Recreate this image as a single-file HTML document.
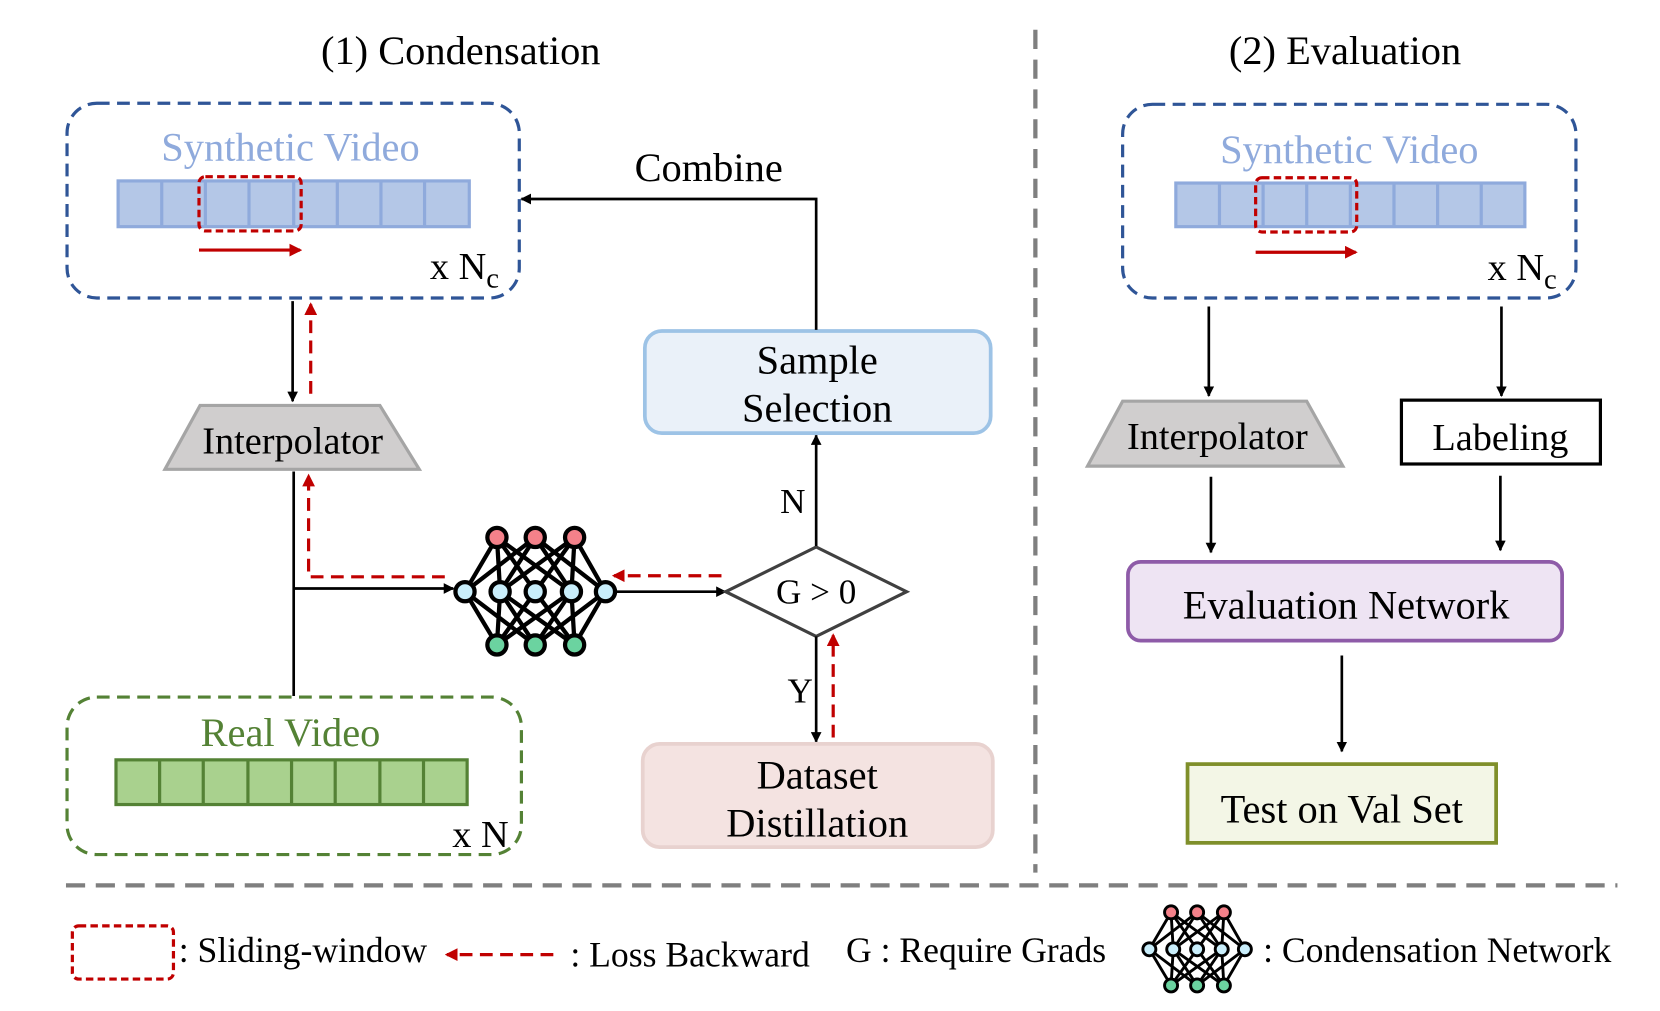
<!DOCTYPE html>
<html><head><meta charset="utf-8"><style>html,body{margin:0;padding:0;background:#fff}svg{display:block}text{font-family:"Liberation Serif",serif;fill:#000}</style></head>
<body>
<svg width="1660" height="1011" viewBox="0 0 1560 950" preserveAspectRatio="none" xmlns="http://www.w3.org/2000/svg" font-family="Liberation Serif, serif">
<defs>
<marker id="ab" markerWidth="10" markerHeight="10" refX="9" refY="5" orient="auto" markerUnits="userSpaceOnUse"><path d="M0,0 L10,5 L0,10 z" fill="#000"/></marker>
<marker id="ar" markerWidth="12" markerHeight="12" refX="10" refY="6" orient="auto" markerUnits="userSpaceOnUse"><path d="M0,0 L12,6 L0,12 z" fill="#C00000"/></marker>
<g id="net">
<g stroke="#000" stroke-width="4">
<path d="M-36,-51 L-66,0 M-36,-51 L-33,0 M-36,-51 L0,0 M-36,-51 L34,0 M0,-51 L-66,0 M0,-51 L-33,0 M0,-51 L34,0 M0,-51 L66,0 M37,-51 L0,0 M37,-51 L-33,0 M37,-51 L34,0 M37,-51 L66,0"/>
<path d="M-36,50 L-66,0 M-36,50 L-33,0 M-36,50 L0,0 M-36,50 L34,0 M0,50 L-66,0 M0,50 L-33,0 M0,50 L34,0 M0,50 L66,0 M37,50 L0,0 M37,50 L-33,0 M37,50 L34,0 M37,50 L66,0"/>
</g>
<g stroke="#000" stroke-width="4">
<circle cx="-36" cy="-51" r="9" fill="#F4818A"/><circle cx="0" cy="-51" r="9" fill="#F4818A"/><circle cx="37" cy="-51" r="9" fill="#F4818A"/>
<circle cx="-66" cy="0" r="9" fill="#C9EEFB"/><circle cx="-33" cy="0" r="9" fill="#C9EEFB"/><circle cx="0" cy="0" r="9" fill="#C9EEFB"/><circle cx="34" cy="0" r="9" fill="#C9EEFB"/><circle cx="66" cy="0" r="9" fill="#C9EEFB"/>
<circle cx="-36" cy="50" r="9" fill="#6BD3A0"/><circle cx="0" cy="50" r="9" fill="#6BD3A0"/><circle cx="37" cy="50" r="9" fill="#6BD3A0"/>
</g>
</g>
</defs>

<text x="433" y="60" font-size="38" text-anchor="middle">(1) Condensation</text>
<text x="1264" y="60" font-size="38" text-anchor="middle">(2) Evaluation</text>
<line x1="973" y1="28" x2="973" y2="820" stroke="#7F7F7F" stroke-width="4" stroke-dasharray="18,10"/>
<line x1="62" y1="832" x2="1520" y2="832" stroke="#7F7F7F" stroke-width="4" stroke-dasharray="18,10"/>

<rect x="63" y="97" width="425" height="183" rx="28" fill="none" stroke="#2F5597" stroke-width="3" stroke-dasharray="12,7"/>
<text x="273" y="151" font-size="38" text-anchor="middle" style="fill:#8FAADC">Synthetic Video</text>
<rect x="111" y="170" width="330" height="43" fill="#B4C7E7" stroke="#8FAADC" stroke-width="3"/>
<path d="M152,170v43M193,170v43M234,170v43M276,170v43M317,170v43M358,170v43M399,170v43" stroke="#8FAADC" stroke-width="3"/>
<rect x="187" y="166" width="96" height="51" rx="6" fill="none" stroke="#C00000" stroke-width="3" stroke-dasharray="7,4"/>
<line x1="187" y1="235" x2="282" y2="235" stroke="#C00000" stroke-width="3" marker-end="url(#ar)"/>
<text x="404" y="262" font-size="36">x N<tspan font-size="27" dy="8">c</tspan></text>

<line x1="275" y1="283" x2="275" y2="377" stroke="#000" stroke-width="2.5" marker-end="url(#ab)"/>
<line x1="292" y1="370" x2="292" y2="286" stroke="#C00000" stroke-width="3" stroke-dasharray="12,7" marker-end="url(#ar)"/>

<polygon points="188,381 357,381 394,441 155,441" fill="#D0CECE" stroke="#A5A5A5" stroke-width="3"/>
<text x="275" y="426" font-size="36" text-anchor="middle">Interpolator</text>

<line x1="276" y1="443" x2="276" y2="654" stroke="#000" stroke-width="2.5"/>
<line x1="276" y1="553" x2="426" y2="553" stroke="#000" stroke-width="2.5" marker-end="url(#ab)"/>
<polyline points="418,542 290,542 290,447" fill="none" stroke="#C00000" stroke-width="3" stroke-dasharray="12,7" marker-end="url(#ar)"/>

<use href="#net" x="503" y="556"/>

<line x1="578" y1="556" x2="682" y2="556" stroke="#000" stroke-width="2.5" marker-end="url(#ab)"/>
<line x1="678" y1="541" x2="577" y2="541" stroke="#C00000" stroke-width="3" stroke-dasharray="12,7" marker-end="url(#ar)"/>

<polygon points="682,556 767,514 852,556 767,598" fill="#fff" stroke="#404040" stroke-width="3"/>
<text x="767" y="567" font-size="33" text-anchor="middle">G &gt; 0</text>

<line x1="767" y1="513" x2="767" y2="409" stroke="#000" stroke-width="2.5" marker-end="url(#ab)"/>
<text x="745" y="482" font-size="33" text-anchor="middle">N</text>

<rect x="606" y="311" width="325" height="96" rx="16" fill="#EAF1F9" stroke="#9DC3E6" stroke-width="3.5"/>
<text x="768" y="351" font-size="38" text-anchor="middle">Sample</text>
<text x="768" y="396" font-size="38" text-anchor="middle">Selection</text>

<polyline points="767,310 767,187 490,187" fill="none" stroke="#000" stroke-width="2.5" marker-end="url(#ab)"/>
<text x="666" y="170" font-size="38" text-anchor="middle">Combine</text>

<line x1="767" y1="598" x2="767" y2="697" stroke="#000" stroke-width="2.5" marker-end="url(#ab)"/>
<line x1="783" y1="693" x2="783" y2="597" stroke="#C00000" stroke-width="3" stroke-dasharray="12,7" marker-end="url(#ar)"/>
<text x="752" y="660" font-size="33" text-anchor="middle">Y</text>

<rect x="604" y="699" width="329" height="97" rx="16" fill="#F4E3E1" stroke="#E8D2CF" stroke-width="3.5"/>
<text x="768" y="741" font-size="38" text-anchor="middle">Dataset</text>
<text x="768" y="786" font-size="38" text-anchor="middle">Distillation</text>

<rect x="63" y="655" width="427" height="148" rx="28" fill="none" stroke="#548235" stroke-width="3" stroke-dasharray="12,7"/>
<text x="273" y="701" font-size="38" text-anchor="middle" style="fill:#548235">Real Video</text>
<rect x="109" y="714" width="330" height="42" fill="#A9D18E" stroke="#548235" stroke-width="3"/>
<path d="M150,714v42M191,714v42M233,714v42M274,714v42M315,714v42M357,714v42M398,714v42" stroke="#548235" stroke-width="3"/>
<text x="425" y="796" font-size="36">x N</text>

<rect x="1055" y="98" width="426" height="182" rx="28" fill="none" stroke="#2F5597" stroke-width="3" stroke-dasharray="12,7"/>
<text x="1268" y="153" font-size="38" text-anchor="middle" style="fill:#8FAADC">Synthetic Video</text>
<rect x="1105" y="172" width="328" height="41" fill="#B4C7E7" stroke="#8FAADC" stroke-width="3"/>
<path d="M1146,172v41M1187,172v41M1228,172v41M1269,172v41M1310,172v41M1351,172v41M1392,172v41" stroke="#8FAADC" stroke-width="3"/>
<rect x="1180" y="167" width="95" height="51" rx="6" fill="none" stroke="#C00000" stroke-width="3" stroke-dasharray="7,4"/>
<line x1="1180" y1="237" x2="1274" y2="237" stroke="#C00000" stroke-width="3" marker-end="url(#ar)"/>
<text x="1398" y="263" font-size="36">x N<tspan font-size="27" dy="8">c</tspan></text>

<line x1="1136" y1="288" x2="1136" y2="372" stroke="#000" stroke-width="2.5" marker-end="url(#ab)"/>
<line x1="1411" y1="288" x2="1411" y2="372" stroke="#000" stroke-width="2.5" marker-end="url(#ab)"/>

<polygon points="1055,377 1228,377 1262,438 1022,438" fill="#D0CECE" stroke="#A5A5A5" stroke-width="3"/>
<text x="1144" y="422" font-size="36" text-anchor="middle">Interpolator</text>
<rect x="1317" y="376" width="187" height="60" fill="#fff" stroke="#000" stroke-width="3"/>
<text x="1410" y="423" font-size="36" text-anchor="middle">Labeling</text>

<line x1="1138" y1="448" x2="1138" y2="519" stroke="#000" stroke-width="2.5" marker-end="url(#ab)"/>
<line x1="1410" y1="447" x2="1410" y2="517" stroke="#000" stroke-width="2.5" marker-end="url(#ab)"/>

<rect x="1060" y="528" width="408" height="74" rx="12" fill="#EEE4F3" stroke="#8E5BA8" stroke-width="3.5"/>
<text x="1265" y="581" font-size="38" text-anchor="middle">Evaluation Network</text>

<line x1="1261" y1="616" x2="1261" y2="706" stroke="#000" stroke-width="2.5" marker-end="url(#ab)"/>

<rect x="1116" y="718" width="290" height="74" fill="#F3F6E6" stroke="#7F8F2A" stroke-width="3.5"/>
<text x="1261" y="773" font-size="38" text-anchor="middle">Test on Val Set</text>

<rect x="68" y="870" width="95" height="50" rx="6" fill="none" stroke="#C00000" stroke-width="3" stroke-dasharray="7,4"/>
<text x="168" y="904" font-size="33.5">: Sliding-window</text>
<line x1="520" y1="897" x2="420" y2="897" stroke="#C00000" stroke-width="3" stroke-dasharray="12,7" marker-end="url(#ar)"/>
<text x="536" y="908" font-size="33.5">: Loss Backward</text>
<text x="795" y="904" font-size="33.5">G : Require Grads</text>
<use href="#net" transform="translate(1125,892) scale(0.68)"/>
<text x="1187" y="904" font-size="33.5">: Condensation Network</text>
</svg>
</body></html>
